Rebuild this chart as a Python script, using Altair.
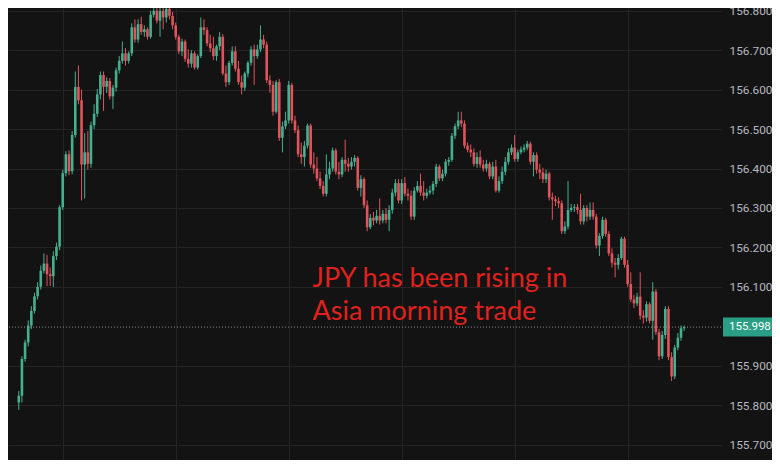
import altair as alt
import pandas as pd

# ---- candle data (USD/JPY, 5-min candles) ----
opens = [
 155.807,155.824,155.917,155.959,156.002,156.039,156.076,156.100,156.141,156.159,
 156.132,156.127,156.178,156.202,156.302,156.388,156.436,156.393,156.485,156.607,
 156.573,156.410,156.441,156.412,156.510,156.539,156.588,156.637,156.607,156.622,
 156.583,156.605,156.649,156.673,156.692,156.673,156.692,156.758,156.727,156.766,
 156.746,156.753,156.734,156.790,156.800,156.775,156.800,156.783,156.805,156.787,
 156.763,156.734,156.697,156.722,156.678,156.666,156.692,156.656,156.685,156.758,
 156.751,156.717,156.705,156.685,156.710,156.734,156.641,156.619,156.668,156.697,
 156.653,156.619,156.605,156.641,156.668,156.702,156.685,156.702,156.727,156.714,
 156.624,156.612,156.544,156.619,156.478,156.507,156.522,156.612,156.522,156.497,
 156.436,156.429,156.458,156.509,156.410,156.400,156.375,156.356,156.336,156.385,
 156.400,156.446,156.392,156.385,156.422,156.412,156.405,156.417,156.427,156.351,
 156.373,156.307,156.251,156.275,156.268,156.280,156.268,156.285,156.270,156.295,
 156.339,156.363,156.319,156.363,156.336,156.331,156.278,156.344,156.356,156.339,
 156.331,156.339,156.344,156.361,156.405,156.375,156.387,156.417,156.422,156.483,
 156.507,156.522,156.514,156.458,156.448,156.441,156.412,156.429,156.410,156.400,
 156.412,156.380,156.405,156.344,156.368,156.392,156.417,156.441,156.453,156.424,
 156.441,156.448,156.453,156.463,156.417,156.434,156.397,156.390,156.373,156.387,
 156.327,156.322,156.317,156.312,156.241,156.253,156.295,156.300,156.302,156.295,
 156.266,156.300,156.278,156.295,156.278,156.205,156.229,156.270,156.234,156.185,
 156.161,156.156,156.173,156.222,156.156,156.107,156.068,156.058,156.075,156.027,
 156.022,156.056,156.014,156.088,155.985,155.924,155.978,156.044,155.922,155.873,
 155.946,155.971,155.995,
]
closes = [
 155.824,155.917,155.959,156.002,156.039,156.076,156.100,156.141,156.159,156.132,
 156.127,156.178,156.202,156.302,156.388,156.436,156.393,156.485,156.607,156.573,
 156.410,156.441,156.412,156.510,156.539,156.588,156.637,156.607,156.622,156.583,
 156.605,156.649,156.673,156.692,156.673,156.692,156.758,156.727,156.766,156.746,
 156.753,156.734,156.790,156.800,156.775,156.800,156.783,156.805,156.787,156.763,
 156.734,156.697,156.722,156.678,156.666,156.692,156.656,156.685,156.758,156.751,
 156.717,156.705,156.685,156.710,156.734,156.641,156.619,156.668,156.697,156.653,
 156.619,156.605,156.641,156.668,156.702,156.685,156.702,156.727,156.714,156.624,
 156.612,156.544,156.619,156.478,156.507,156.522,156.612,156.522,156.497,156.436,
 156.429,156.458,156.509,156.410,156.400,156.375,156.356,156.336,156.385,156.400,
 156.446,156.392,156.385,156.422,156.412,156.405,156.417,156.427,156.351,156.373,
 156.307,156.251,156.275,156.268,156.280,156.268,156.285,156.270,156.295,156.339,
 156.363,156.319,156.363,156.336,156.331,156.278,156.344,156.356,156.339,156.331,
 156.339,156.344,156.361,156.405,156.375,156.387,156.417,156.422,156.483,156.507,
 156.522,156.514,156.458,156.448,156.441,156.412,156.429,156.410,156.400,156.412,
 156.380,156.405,156.344,156.368,156.392,156.417,156.441,156.453,156.424,156.441,
 156.448,156.453,156.463,156.417,156.434,156.397,156.390,156.373,156.387,156.327,
 156.322,156.317,156.312,156.241,156.253,156.295,156.300,156.302,156.295,156.266,
 156.300,156.278,156.295,156.278,156.205,156.229,156.270,156.234,156.185,156.161,
 156.156,156.173,156.222,156.156,156.107,156.068,156.058,156.075,156.027,156.022,
 156.056,156.014,156.088,155.985,155.924,155.978,156.044,155.922,155.873,155.946,
 155.971,155.995,155.998,
]
highs = [
 155.836,155.924,155.966,156.015,156.051,156.085,156.112,156.154,156.185,156.181,
 156.149,156.190,156.212,156.307,156.397,156.444,156.446,156.495,156.646,156.661,
 156.600,156.490,156.495,156.519,156.563,156.602,156.646,156.646,156.631,156.629,
 156.612,156.656,156.685,156.722,156.705,156.697,156.768,156.778,156.778,156.785,
 156.763,156.758,156.800,156.807,156.807,156.807,156.807,156.807,156.807,156.797,
 156.770,156.739,156.729,156.727,156.702,156.700,156.697,156.690,156.783,156.778,
 156.758,156.739,156.734,156.714,156.746,156.741,156.661,156.673,156.710,156.710,
 156.673,156.636,156.646,156.673,156.710,156.714,156.714,156.763,156.739,156.722,
 156.636,156.622,156.624,156.627,156.519,156.544,156.622,156.617,156.534,156.509,
 156.466,156.470,156.514,156.514,156.441,156.429,156.392,156.368,156.436,156.417,
 156.453,156.451,156.417,156.429,156.473,156.427,156.429,156.434,156.431,156.383,
 156.378,156.319,156.285,156.290,156.295,156.324,156.295,156.300,156.307,156.349,
 156.373,156.373,156.373,156.378,156.349,156.344,156.353,156.368,156.387,156.368,
 156.349,156.356,156.368,156.412,156.410,156.397,156.424,156.429,156.490,156.514,
 156.544,156.544,156.522,156.466,156.461,156.451,156.441,156.446,156.422,156.422,
 156.417,156.417,156.422,156.380,156.405,156.429,156.451,156.461,156.485,156.448,
 156.456,156.461,156.470,156.468,156.441,156.441,156.412,156.402,156.397,156.392,
 156.339,156.331,156.327,156.319,156.266,156.368,156.310,156.310,156.310,156.336,
 156.307,156.307,156.314,156.314,156.285,156.236,156.278,156.275,156.241,156.197,
 156.173,156.183,156.227,156.227,156.168,156.137,156.080,156.085,156.137,156.041,
 156.063,156.061,156.112,156.095,155.993,155.988,156.051,156.051,155.934,155.953,
 155.983,156.002,156.002,
]
lows = [
 155.788,155.807,155.910,155.949,155.993,156.032,156.068,156.093,156.134,156.102,
 156.102,156.100,156.168,156.193,156.295,156.380,156.383,156.385,156.478,156.563,
 156.319,156.324,156.397,156.402,156.500,156.531,156.575,156.546,156.592,156.575,
 156.551,156.595,156.641,156.666,156.661,156.666,156.685,156.719,156.719,156.739,
 156.734,156.727,156.729,156.783,156.768,156.734,156.753,156.770,156.778,156.753,
 156.727,156.690,156.685,156.670,156.656,156.656,156.651,156.651,156.680,156.739,
 156.710,156.695,156.675,156.673,156.700,156.636,156.607,156.612,156.661,156.646,
 156.612,156.588,156.597,156.631,156.661,156.612,156.678,156.695,156.705,156.617,
 156.592,156.534,156.539,156.470,156.441,156.500,156.514,156.514,156.490,156.429,
 156.412,156.405,156.451,156.402,156.387,156.368,156.348,156.329,156.329,156.373,
 156.392,156.385,156.373,156.378,156.392,156.392,156.397,156.405,156.344,156.329,
 156.300,156.241,156.246,156.256,156.261,156.258,156.261,156.261,156.241,156.285,
 156.329,156.312,156.310,156.329,156.319,156.270,156.270,156.339,156.331,156.319,
 156.324,156.334,156.334,156.353,156.368,156.368,156.380,156.407,156.417,156.475,
 156.500,156.505,156.451,156.441,156.429,156.405,156.402,156.402,156.392,156.392,
 156.373,156.373,156.339,156.339,156.361,156.383,156.410,156.434,156.417,156.417,
 156.436,156.441,156.446,156.410,156.380,156.387,156.373,156.363,156.363,156.319,
 156.270,156.305,156.300,156.234,156.234,156.246,156.290,156.290,156.285,156.258,
 156.258,156.266,156.270,156.270,156.197,156.178,156.222,156.227,156.178,156.149,
 156.124,156.144,156.168,156.149,156.100,156.061,156.046,156.051,156.017,156.007,
 156.012,156.007,155.966,155.978,155.914,155.917,155.968,155.914,155.861,155.866,
 155.939,155.963,155.988,
]

last_price = [155.998]
last_label = ["155.998"]
y_ticks = [155.7, 155.8, 155.9, 156.1, 156.2, 156.3, 156.4, 156.5, 156.6, 156.7, 156.8]
time_grid = [14, 50, 86, 122, 158, 194]          # candle index of the time gridlines
note_lines = ["JPY has been rising in", "Asia morning trade"]
note_x = [93.6, 93.6]
note_y = [156.100, 156.015]

# ---- styling ----
BG = "#131313"
GRID = "#242424"
UP = "#45b08f"
DOWN = "#e2545b"
BOX = "#2a9f86"
NOTE = "#e0211d"
W, H, PAD_R = 713, 452, 51

df = pd.DataFrame({"i": list(range(len(opens))), "open": opens, "high": highs,
                   "low": lows, "close": closes})
price_df = pd.DataFrame({"price": last_price, "label": last_label})
note_df = pd.DataFrame({"t": note_lines, "nx": note_x, "ny": note_y})

xs = alt.Scale(domain=[-1.846, 222.15], nice=False, zero=False)
ys = alt.Scale(domain=[155.661, 156.807], nice=False, zero=False)

color = alt.condition(alt.datum.close >= alt.datum.open, alt.value(UP), alt.value(DOWN))

x_axis = alt.Axis(values=time_grid, labels=False, ticks=False, domain=False, grid=True,
                  gridColor=GRID, gridWidth=1, gridOpacity=1, title=None)
y_axis = alt.Axis(orient="right", values=y_ticks, format=".3f", labelColor="#b6b9c0",
                  labelFont="Roboto", labelFontSize=11.8, ticks=False, tickSize=0,
                  domain=False, labelPadding=8, grid=True, gridColor=GRID, gridWidth=1,
                  gridOpacity=1, title=None, labelOverlap=False)

wicks = alt.Chart(df).mark_rule(strokeWidth=1).encode(
    x=alt.X("i:Q", scale=xs, axis=x_axis),
    y=alt.Y("low:Q", scale=ys, axis=y_axis),
    y2="high:Q",
    color=color,
)
bodies = alt.Chart(df).mark_bar(size=2.6).encode(
    x=alt.X("i:Q", scale=xs, title=None),
    y=alt.Y("open:Q", scale=ys, title=None),
    y2="close:Q",
    color=color,
)
price_line = alt.Chart(price_df).mark_rule(strokeDash=[1, 2], color="#8c8c8c", strokeWidth=1).encode(
    y=alt.Y("price:Q", scale=ys, title=None),
)
price_box = alt.Chart(price_df).mark_tick(orient="horizontal", size=49, thickness=19,
                                          color=BOX, opacity=1, clip=False).encode(
    y=alt.Y("price:Q", scale=ys, title=None),
    x=alt.value(739.5),
)
price_text = alt.Chart(price_df).mark_text(align="left", baseline="middle", color="#ffffff",
                                           font="Roboto", fontSize=11.5, clip=False).encode(
    y=alt.Y("price:Q", scale=ys, title=None),
    x=alt.value(721),
    text="label:N",
)
note = alt.Chart(note_df).mark_text(align="left", baseline="alphabetic", color=NOTE,
                                    font="Lato", fontSize=27).encode(
    x=alt.X("nx:Q", scale=xs, title=None),
    y=alt.Y("ny:Q", scale=ys, title=None),
    text="t:N",
)

chart = alt.layer(wicks, bodies, price_line, price_box, price_text, note).properties(
    width=W, height=H,
    background=BG,
    padding={"left": 0, "top": 0, "right": PAD_R, "bottom": 0},
    autosize=alt.AutoSizeParams(type="none"),
).configure_view(stroke=None)

chart.save("out.html", embed_options={"renderer": "svg", "actions": False})
